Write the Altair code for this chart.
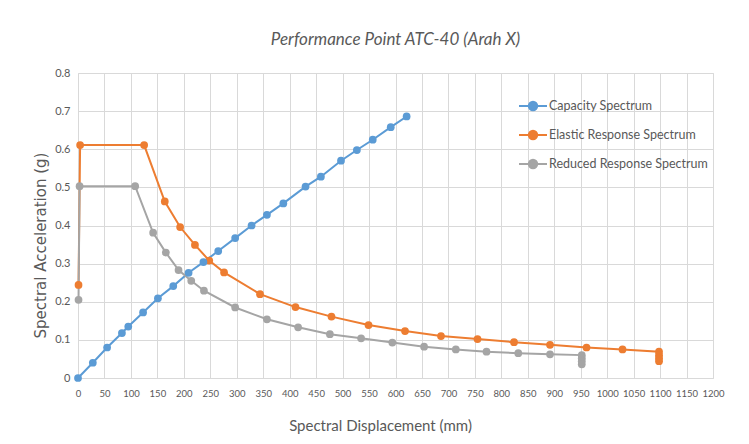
import altair as alt
import pandas as pd

# Capacity Spectrum
cap_x = [0, 28, 55, 83, 95, 123, 151, 180, 209, 237, 265, 297, 328, 357, 388, 430, 459, 497, 527, 557, 591, 621]
cap_y = [0.0, 0.040, 0.080, 0.118, 0.135, 0.172, 0.209, 0.241, 0.276, 0.304, 0.333, 0.367, 0.400, 0.428, 0.458, 0.502, 0.528, 0.570, 0.598, 0.625, 0.658, 0.686]

# Elastic Response Spectrum
ela_x = [1, 4, 125, 164, 193, 221, 248, 276, 344, 411, 479, 549, 618, 686, 755, 824, 892, 961, 1029, 1098, 1098, 1098, 1098]
ela_y = [0.244, 0.611, 0.611, 0.463, 0.396, 0.349, 0.308, 0.277, 0.220, 0.186, 0.161, 0.139, 0.123, 0.110, 0.102, 0.094, 0.087, 0.080, 0.075, 0.069, 0.060, 0.052, 0.044]

# Reduced Response Spectrum
red_x = [1, 3, 108, 142, 166, 190, 214, 238, 297, 357, 416, 476, 535, 594, 654, 714, 772, 832, 892, 952, 952, 952, 952]
red_y = [0.205, 0.503, 0.503, 0.381, 0.329, 0.283, 0.255, 0.229, 0.185, 0.154, 0.133, 0.115, 0.104, 0.093, 0.082, 0.075, 0.069, 0.065, 0.062, 0.060, 0.052, 0.044, 0.036]

series_names = ["Capacity Spectrum", "Elastic Response Spectrum", "Reduced Response Spectrum"]
series_colors = ["#5b9bd5", "#ed7d31", "#a5a5a5"]

x_ticks = list(range(0, 1201, 50))
y_ticks = [0, 0.1, 0.2, 0.3, 0.4, 0.5, 0.6, 0.7, 0.8]

rows = []
for name, xs, ys in zip(series_names, [cap_x, ela_x, red_x], [cap_y, ela_y, red_y]):
    for i, (xv, yv) in enumerate(zip(xs, ys)):
        rows.append({"series": name, "x": xv, "y": yv, "order": i})
df = pd.DataFrame(rows)

FONT = "Lato"
GREY = "#595959"

color = alt.Color(
    "series:N",
    scale=alt.Scale(domain=series_names, range=series_colors),
    legend=alt.Legend(
        title=None,
        orient="none",
        legendX=440,
        legendY=18,
        symbolType="M-1,0L1,0M-0.3,0a0.3,0.3 0 1,0 0.6,0a0.3,0.3 0 1,0 -0.6,0",
        symbolSize=784,
        symbolStrokeWidth=2,
        rowPadding=5,
        labelFont=FONT,
        labelFontSize=12.5,
        labelColor=GREY,
        labelOffset=1,
    ),
)

x_enc = alt.X(
    "x:Q",
    scale=alt.Scale(domain=[0, 1200], nice=False),
    axis=alt.Axis(
        values=x_ticks,
        format="d",
        title="Spectral Displacement (mm)",
        titleFont=FONT,
        titleFontSize=15,
        titleFontWeight="normal",
        titleColor=GREY,
        titleX=302,
        titleY=47,
        titleBaseline="middle",
        labelFont=FONT,
        labelFontSize=9.5,
        labelColor=GREY,
        labelPadding=10,
        labelOverlap=False,
        labelFlush=False,
        ticks=False,
        domain=False,
        gridColor="#d9d9d9",
    ),
)
y_enc = alt.Y(
    "y:Q",
    scale=alt.Scale(domain=[0, 0.8], nice=False),
    axis=alt.Axis(
        values=y_ticks,
        format="~g",
        title="Spectral Acceleration (g)",
        titleFont="DejaVu Sans",
        titleFontSize=15,
        titleFontWeight="normal",
        titleColor=GREY,
        titleX=-38,
        titleY=172,
        titleBaseline="middle",
        labelFont=FONT,
        labelFontSize=11,
        labelColor=GREY,
        labelPadding=8,
        labelFlush=False,
        ticks=False,
        domain=False,
        gridColor="#d9d9d9",
    ),
)

base = alt.Chart(df).encode(x=x_enc, y=y_enc, color=color, order="order:Q")
lines = base.mark_line(strokeWidth=2)
points = base.mark_point(filled=True, size=60, opacity=1)

chart = (
    alt.layer(lines, points)
    .properties(
        width=635,
        height=305,
        padding={"left": 70, "top": 65, "right": 28, "bottom": 58},
        autosize=alt.AutoSizeParams(type="none"),
        title=alt.TitleParams(
            "Performance Point ATC-40 (Arah X)",
            font=FONT,
            fontSize=17,
            fontStyle="italic",
            fontWeight="normal",
            color=GREY,
            anchor="middle",
            offset=18,
        ),
    )
    .configure_view(stroke=None)
    .configure(background="white")
)

chart.save("out.html", embed_options={"renderer": "svg", "actions": False})
